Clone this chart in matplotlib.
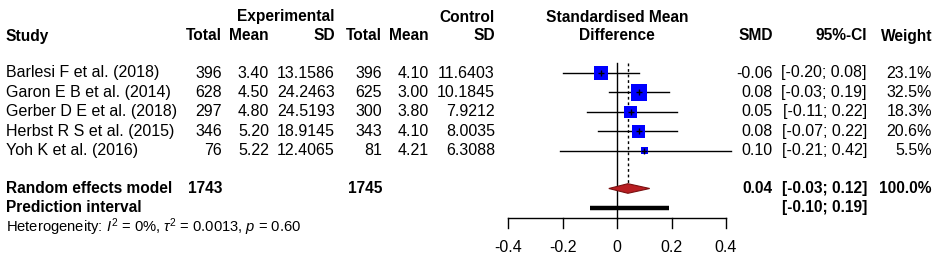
import matplotlib
matplotlib.use('Agg')
import matplotlib.pyplot as plt
from matplotlib.patches import Rectangle, Polygon
import numpy as np

plt.rcParams['font.family'] = ['Liberation Sans', 'DejaVu Sans']
plt.rcParams['mathtext.fontset'] = 'custom'
plt.rcParams['mathtext.rm'] = 'Liberation Sans'
plt.rcParams['mathtext.it'] = 'Liberation Sans:italic'

# study data
studies = ['Barlesi F et al. (2018)', 'Garon E B et al. (2014)', 'Gerber D E et al. (2018)',
           'Herbst R S et al. (2015)', 'Yoh K et al. (2016)']
exp_n = [396, 628, 297, 346, 76]
exp_mean = [3.40, 4.50, 4.80, 5.20, 5.22]
exp_sd = [13.1586, 24.2463, 24.5193, 18.9145, 12.4065]
ctrl_n = [396, 625, 300, 343, 81]
ctrl_mean = [4.10, 3.00, 3.80, 4.10, 4.21]
ctrl_sd = [11.6403, 10.1845, 7.9212, 8.0035, 6.3088]
smd = [-0.06, 0.08, 0.05, 0.08, 0.10]
ci_lo = [-0.20, -0.03, -0.11, -0.07, -0.21]
ci_hi = [0.08, 0.19, 0.22, 0.22, 0.42]
weight = [23.1, 32.5, 18.3, 20.6, 5.5]

# pooled results
re_n_exp, re_n_ctrl = 1743, 1745
re_smd, re_lo, re_hi = 0.04, -0.03, 0.12
pi_lo, pi_hi = -0.10, 0.19
tick_vals = [-0.4, -0.2, 0, 0.2, 0.4]

W, H = 948, 260
x0_px, px_per_unit = 617, 272.5

fig = plt.figure(figsize=(W / 100, H / 100), dpi=100)
# text layer in pixel coordinates
tx = fig.add_axes([0, 0, 1, 1])
tx.set_xlim(0, W)
tx.set_ylim(H, 0)
tx.axis('off')
# forest layer: x in SMD units, y in pixels
fx = fig.add_axes([0, 0, 1, 1])
fx.set_xlim(-x0_px / px_per_unit, (W - x0_px) / px_per_unit)
fx.set_ylim(H, 0)
fx.axis('off')

fs = 11.5
fs_bold = 11.2
row_y = [73, 92.4, 111.8, 131.2, 150.6]
y_re, y_pi, y_het = 188.5, 207.7, 227
y_h1, y_h2 = 17, 36

def t(x, y, s, ha='right', bold=False, size=None):
    if size is None:
        size = fs_bold if bold else fs
    tx.text(x, y, s, ha=ha, va='center', fontsize=size,
            fontweight='bold' if bold else 'normal')

# headers
t(335, y_h1, 'Experimental', bold=True)
t(495, y_h1, 'Control', bold=True)
t(617, y_h1, 'Standardised Mean', ha='center', bold=True)
t(6, y_h2, 'Study', ha='left', bold=True)
for x, s in [(222, 'Total'), (269, 'Mean'), (335, 'SD'), (382, 'Total'), (429, 'Mean'),
             (495, 'SD'), (773, 'SMD'), (867, '95%-CI'), (932, 'Weight')]:
    t(x, y_h2, s, bold=True)
t(617, y_h2, 'Difference', ha='center', bold=True)

# study rows
for i, y in enumerate(row_y):
    t(6, y, studies[i], ha='left')
    t(222, y, str(exp_n[i]))
    t(269, y, '%.2f' % exp_mean[i])
    t(335, y, '%.4f' % exp_sd[i])
    t(382, y, str(ctrl_n[i]))
    t(429, y, '%.2f' % ctrl_mean[i])
    t(495, y, '%.4f' % ctrl_sd[i])
    t(773, y, '%.2f' % smd[i])
    t(867, y, '[%.2f; %.2f]' % (ci_lo[i], ci_hi[i]))
    t(932, y, '%.1f%%' % weight[i])

    fx.plot([ci_lo[i], ci_hi[i]], [y, y], color='black', lw=1, zorder=2)
    side = 2.91 * np.sqrt(weight[i])
    w_u = side / px_per_unit
    fx.add_patch(Rectangle((smd[i] - w_u / 2, y - side / 2), w_u, side,
                           facecolor='#0000ff', edgecolor='none', zorder=3))
    fx.plot([smd[i]], [y], marker='+', color='black', ms=5, mew=1, zorder=4)

# pooled rows
t(6, y_re, 'Random effects model', ha='left', bold=True)
t(222, y_re, str(re_n_exp), bold=True)
t(382, y_re, str(re_n_ctrl), bold=True)
t(773, y_re, '%.2f' % re_smd, bold=True)
t(867, y_re, '[%.2f; %.2f]' % (re_lo, re_hi), bold=True)
t(932, y_re, '100.0%', bold=True)
t(6, y_pi, 'Prediction interval', ha='left', bold=True)
t(867, y_pi, '[%.2f; %.2f]' % (pi_lo, pi_hi), bold=True)
t(6, y_het, r'Heterogeneity: $I^2$ = 0%, $\tau^2$ = 0.0013, $p$ = 0.60', ha='left', size=10.6)

# diamond and prediction bar
dh = 4.8
fx.add_patch(Polygon([(re_lo, y_re), (re_smd, y_re - dh), (re_hi, y_re), (re_smd, y_re + dh)],
                     closed=True, facecolor='#b81e22', edgecolor='#7a1010', lw=0.8, zorder=3))
fx.plot([pi_lo, pi_hi], [y_pi, y_pi], color='black', lw=3.2, solid_capstyle='butt', zorder=3)

# reference lines
y_axis = 218.3
fx.plot([0, 0], [63, y_axis], color='black', lw=1, zorder=1)
fx.plot([re_smd, re_smd], [63, y_re - dh], color='black', lw=1,
        linestyle=(0, (2, 2)), zorder=1)

# x axis
fx.plot([tick_vals[0], tick_vals[-1]], [y_axis, y_axis], color='black', lw=1)
for v in tick_vals:
    fx.plot([v, v], [y_axis, y_axis + 10], color='black', lw=1)
    lab = '0' if v == 0 else ('%.1f' % v)
    fx.text(v, 247, lab, ha='center', va='center', fontsize=fs)

fig.savefig('out.png', dpi=100)
